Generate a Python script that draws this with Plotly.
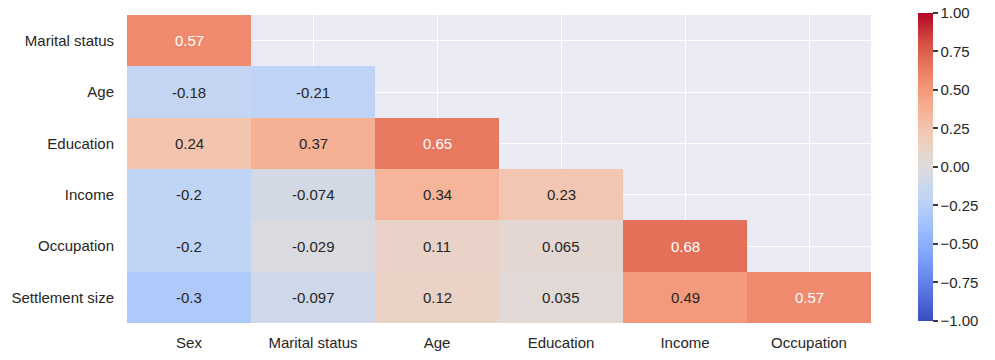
import plotly.graph_objects as go

rows = ["Marital status", "Age", "Education", "Income", "Occupation", "Settlement size"]
cols = ["Sex", "Marital status", "Age", "Education", "Income", "Occupation"]
values = [
    [0.57, None, None, None, None, None],
    [-0.18, -0.21, None, None, None, None],
    [0.24, 0.37, 0.65, None, None, None],
    [-0.2, -0.074, 0.34, 0.23, None, None],
    [-0.2, -0.029, 0.11, 0.065, 0.68, None],
    [-0.3, -0.097, 0.12, 0.035, 0.49, 0.57],
]
cbar_ticks = [-1.0, -0.75, -0.5, -0.25, 0.0, 0.25, 0.5, 0.75, 1.0]

# approximation of matplotlib "coolwarm"
coolwarm = [
    (0.0, (59, 76, 192)), (0.1, (89, 119, 227)), (0.2, (123, 159, 249)),
    (0.3, (158, 190, 255)), (0.4, (192, 212, 245)), (0.5, (221, 220, 220)),
    (0.6, (242, 203, 183)), (0.7, (247, 172, 142)), (0.8, (238, 132, 104)),
    (0.9, (214, 82, 68)), (1.0, (180, 4, 38)),
]
colorscale = [[p, "rgb(%d,%d,%d)" % c] for p, c in coolwarm]


def color_at(v):
    t = (v + 1) / 2
    for (p0, c0), (p1, c1) in zip(coolwarm[:-1], coolwarm[1:]):
        if p0 <= t <= p1:
            f = (t - p0) / (p1 - p0)
            return [c0[i] + f * (c1[i] - c0[i]) for i in range(3)]
    return list(coolwarm[-1][1])


def luminance(rgb):
    out = []
    for c in rgb:
        c = c / 255
        out.append(c / 12.92 if c <= 0.03928 else ((c + 0.055) / 1.055) ** 2.4)
    return 0.2126 * out[0] + 0.7152 * out[1] + 0.0722 * out[2]


FS = 15
W, H = 995, 360

fig = go.Figure(
    go.Heatmap(
        z=values, x=cols, y=rows, zmin=-1, zmax=1, colorscale=colorscale,
        hoverongaps=False, xgap=0, ygap=0,
        colorbar=dict(
            thickness=15, len=308, lenmode="pixels", y=1 - 15 / H, yanchor="top",
            yref="container", ypad=0, xpad=0,
            x=918 / W, xanchor="left", xref="container", outlinewidth=0,
            tickvals=cbar_ticks, tickformat=".2f", ticks="outside",
            ticklen=5, tickwidth=1.5, tickcolor="#3c3c3c",
            tickfont=dict(size=FS, color="#262626"),
        ),
    )
)

for i, r in enumerate(rows):
    for j, c in enumerate(cols):
        v = values[i][j]
        if v is None:
            continue
        txt = format(v, ".2g")
        col = "white" if luminance(color_at(v)) <= 0.408 else "#262626"
        fig.add_annotation(x=c, y=r, text=txt, showarrow=False,
                           font=dict(size=FS, color=col))

fig.update_layout(
    width=W, height=H,
    margin=dict(l=127, r=124, t=15, b=37, autoexpand=False),
    paper_bgcolor="white", plot_bgcolor="#EAEAF2",
    font=dict(family="Liberation Sans, Arial, sans-serif", size=FS, color="#262626"),
    xaxis=dict(showgrid=True, gridcolor="white", gridwidth=1.2, zeroline=False,
               showline=False, ticks="", ticklabelstandoff=9, automargin=False,
               tickfont=dict(size=FS, color="#262626")),
    yaxis=dict(showgrid=True, gridcolor="white", gridwidth=1.2, zeroline=False,
               showline=False, ticks="", autorange="reversed", ticklabelstandoff=12,
               automargin=False, tickfont=dict(size=FS, color="#262626")),
)

fig.write_html("out.html", config={"displayModeBar": False},
               post_script="document.body.style.margin='0';document.body.style.overflow='hidden';")
